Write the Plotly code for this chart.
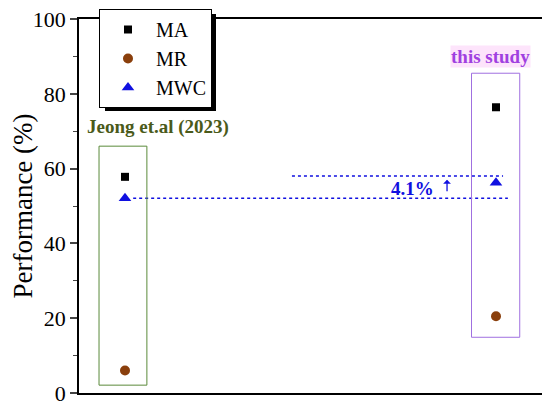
import plotly.graph_objects as go

studies = [1, 2]
ma = [57.8, 76.4]
mr = [6.0, 20.5]
mwc = [52.1, 56.2]

ref_line = 52.1
top_line = 58.0
gain_label = "4.1%"

SERIF = 'Liberation Serif, Times New Roman, serif'

fig = go.Figure()

fig.add_trace(go.Scatter(x=studies, y=ma, mode='markers', name='MA',
                         marker=dict(symbol='square', color='black', size=8)))
fig.add_trace(go.Scatter(x=studies, y=mr, mode='markers', name='MR',
                         marker=dict(symbol='circle', color='#8a3f0c', size=10)))
fig.add_trace(go.Scatter(x=studies, y=mwc, mode='markers', name='MWC',
                         marker=dict(symbol='triangle-up', color='#1010e0', size=11)))

# dotted reference lines
fig.add_trace(go.Scatter(x=[1.022, 2.032], y=[ref_line, ref_line], mode='lines',
                         line=dict(color='#1010e0', dash='dot', width=1.5),
                         showlegend=False, hoverinfo='skip'))
fig.add_trace(go.Scatter(x=[1.45, 2.019], y=[top_line, top_line], mode='lines',
                         line=dict(color='#1010e0', dash='dot', width=1.5),
                         showlegend=False, hoverinfo='skip'))

# boxes round each study
fig.add_shape(type='rect', x0=0.930, x1=1.059, y0=2.1, y1=66,
              line=dict(color='#5a8a3a', width=1))
fig.add_shape(type='rect', x0=1.934, x1=2.064, y0=14.9, y1=85.5,
              line=dict(color='#a070e0', width=1))

# legend shadow
fig.add_shape(type='rect', xref='paper', yref='paper',
              x0=(105 - 79) / 463, x1=(216 - 79) / 463,
              y0=(393 - 111) / 374, y1=(393 - 14) / 374,
              fillcolor='black', line=dict(width=0), layer='above')

fig.add_annotation(x=1.089, y=71.1, text='<b>Jeong et.al (2023)</b>', showarrow=False,
                   font=dict(family=SERIF, size=19, color='#4a5a1a'))
fig.add_annotation(x=1.984, y=90.1, text='<b>this study</b>', showarrow=False,
                   bgcolor='#fde4fb', borderpad=0,
                   font=dict(family=SERIF, size=19, color='#a040e0'))
fig.add_annotation(x=1.776, y=54.8, text='<b>' + gain_label + '</b>', showarrow=False,
                   font=dict(family=SERIF, size=19, color='#1010e0'))
fig.add_annotation(x=1.868, y=57.0, ax=0, ay=13, text='', showarrow=True,
                   arrowhead=1, arrowsize=1, arrowwidth=1.3, arrowcolor='#1010e0')

fig.update_xaxes(range=[0.876, 2.124], showticklabels=False, ticks='',
                 showgrid=False, zeroline=False, showline=True, linecolor='black',
                 linewidth=1.5, mirror=True)
fig.update_yaxes(range=[0, 100], dtick=20, ticks='outside', ticklen=7, tickwidth=1.5,
                 minor=dict(dtick=10, ticks='outside', ticklen=4, tickwidth=1),
                 showgrid=False, zeroline=False, showline=True, linecolor='black',
                 linewidth=1.5, mirror=True, ticklabeloverflow='allow',
                 title=dict(text='Performance (%)', standoff=8,
                            font=dict(family=SERIF, size=27, color='black')),
                 tickfont=dict(family=SERIF, size=22, color='black'))

# page body has an 8px margin, so the margins are shifted by that much
fig.update_layout(
    width=550, height=408,
    margin=dict(l=71, r=16, t=11, b=23, autoexpand=False),
    plot_bgcolor='white', paper_bgcolor='white',
    showlegend=True,
    legend=dict(x=(99 - 79) / 463, y=(393 - 9) / 374, xanchor='left', yanchor='top',
                bgcolor='white', bordercolor='black', borderwidth=1,
                font=dict(family=SERIF, size=20, color='black'),
                itemwidth=46, tracegroupgap=0),
)

fig.write_html("out.html")
